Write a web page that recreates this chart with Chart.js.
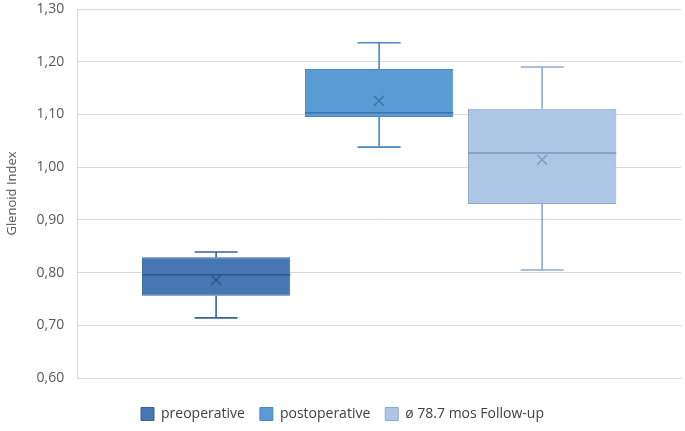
<!DOCTYPE html>
<html>
<head>
<meta charset="utf-8">
<script src="https://cdn.jsdelivr.net/npm/chart.js@4"></script>
<style>
html,body{margin:0;padding:0;background:#fff;}
#wrap{width:685px;height:431px;}
</style>
</head>
<body>
<div id="wrap"><canvas id="c" width="685" height="431"></canvas></div>
<script>
// Data (Glenoid Index)
const seriesNames = ['preoperative', 'postoperative', 'ø 78.7 mos Follow-up'];
const minVals    = [0.714, 1.038, 0.805];
const q1Vals     = [0.756, 1.095, 0.930];
const medianVals = [0.796, 1.103, 1.027];
const q3Vals     = [0.829, 1.186, 1.111];
const maxVals    = [0.839, 1.236, 1.190];
const meanVals   = [0.786, 1.126, 1.014];
const yTicks     = [0.60, 0.70, 0.80, 0.90, 1.00, 1.10, 1.20, 1.30];

const fillColors   = ['#4677b2', '#5b9bd5', '#adc6e6'];
const borderColors = ['#36639a', '#4a88c4', '#8ea9cf'];
const markColors   = ['#2f5785', '#3d73a8', '#7f97ba'];

const datasets = seriesNames.map((name, i) => ({
  label: name,
  data: [[q1Vals[i], q3Vals[i]]],
  backgroundColor: fillColors[i],
  borderColor: borderColors[i],
  borderWidth: 1,
  borderSkipped: false,
  barPercentage: 0.91,
  categoryPercentage: 0.81
}));

const boxPlugin = {
  id: 'boxWhiskers',
  afterDatasetsDraw(chart) {
    const ctx = chart.ctx;
    const y = chart.scales.y;
    chart.data.datasets.forEach((ds, i) => {
      const meta = chart.getDatasetMeta(i);
      const bar = meta.data[0];
      const cx = bar.x;
      const w = bar.width;
      const capW = w * 0.29;
      const pMin = y.getPixelForValue(minVals[i]);
      const pMax = y.getPixelForValue(maxVals[i]);
      const pQ1 = y.getPixelForValue(q1Vals[i]);
      const pQ3 = y.getPixelForValue(q3Vals[i]);
      const pMed = y.getPixelForValue(medianVals[i]);
      const pMean = y.getPixelForValue(meanVals[i]);
      ctx.save();
      ctx.strokeStyle = borderColors[i];
      ctx.lineWidth = 1.6;
      ctx.beginPath();
      ctx.moveTo(cx, pQ3); ctx.lineTo(cx, pMax);
      ctx.moveTo(cx - capW / 2, pMax); ctx.lineTo(cx + capW / 2, pMax);
      ctx.moveTo(cx, pQ1); ctx.lineTo(cx, pMin);
      ctx.moveTo(cx - capW / 2, pMin); ctx.lineTo(cx + capW / 2, pMin);
      ctx.stroke();
      // median
      ctx.strokeStyle = markColors[i];
      ctx.lineWidth = 1.5;
      ctx.beginPath();
      ctx.moveTo(cx - w / 2, pMed); ctx.lineTo(cx + w / 2, pMed);
      ctx.stroke();
      // mean marker (x)
      const s = 5;
      ctx.lineWidth = 1.3;
      ctx.beginPath();
      ctx.moveTo(cx - s, pMean - s); ctx.lineTo(cx + s, pMean + s);
      ctx.moveTo(cx + s, pMean - s); ctx.lineTo(cx - s, pMean + s);
      ctx.stroke();
      ctx.restore();
    });
  }
};

new Chart(document.getElementById('c'), {
  type: 'bar',
  data: { labels: [''], datasets },
  options: {
    responsive: false,
    animation: false,
    layout: { padding: { left: 4, right: 4, top: 0, bottom: 0 } },
    plugins: {
      legend: {
        position: 'bottom',
        labels: {
          boxWidth: 13, boxHeight: 13, padding: 15,
          color: '#404040',
          font: { family: 'Open Sans', size: 14 }
        }
      },
      tooltip: { enabled: false }
    },
    scales: {
      x: {
        grid: { display: false, drawTicks: false },
        border: { display: false },
        ticks: { display: false },
        afterFit(scale) { scale.height = 14; }
      },
      y: {
        min: 0.6, max: 1.3,
        afterBuildTicks(scale) { scale.ticks = yTicks.map(v => ({ value: v })); },
        afterFit(scale) { scale.paddingTop = 9; scale.paddingBottom = 0; },
        ticks: {
          padding: 13,
          color: '#595959',
          font: { family: 'Open Sans', size: 14 },
          callback: v => v.toFixed(2).replace('.', ',')
        },
        grid: { color: '#d9d9d9', lineWidth: 1, drawTicks: false },
        border: { display: true, color: '#d9d9d9' },
        title: {
          display: true, text: 'Glenoid Index',
          color: '#595959',
          font: { family: 'Open Sans', size: 13 },
          padding: { top: 0, bottom: 4 }
        }
      }
    }
  },
  plugins: [boxPlugin]
});
</script>
</body>
</html>
